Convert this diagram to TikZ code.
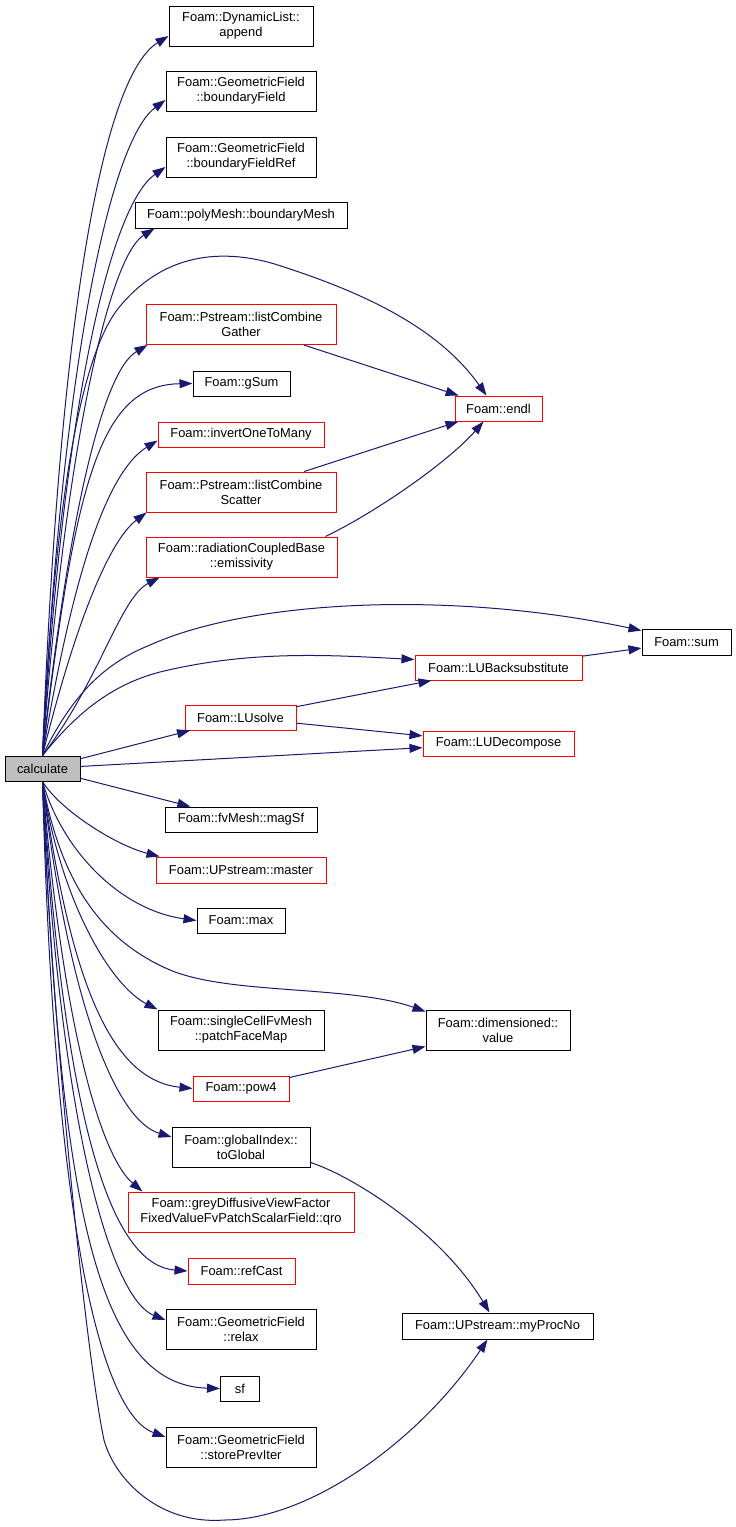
\documentclass[tikz,border=0pt]{standalone}
\usepackage{fontspec}
\setmainfont{Liberation Sans}
\usetikzlibrary{arrows.meta}
\definecolor{edgeblue}{HTML}{191970}
\definecolor{nodegray}{HTML}{BFBFBF}
\begin{document}
\begin{tikzpicture}[x=1pt,y=-1pt,font=\fontsize{12.9}{15}\selectfont,
	fn/.style={rectangle, draw=black, line width=1pt, inner sep=0pt, align=center, minimum height=25pt},
	tall/.style={minimum height=40pt},
	trunc/.style={draw=red},
	call/.style={draw=edgeblue, line width=1pt, -{Triangle[length=13pt,width=9pt]}}]
	\useasboundingbox (0,0) rectangle (736,1527);
	\node (calc)		at ( 42.5,  768.5)	[fn, fill=nodegray, minimum width=75pt]	{calculate};
	\node (append)		at (241,     26)	[fn, tall, minimum width=144pt]	{Foam::DynamicList::\\append};
	\node (bField)		at (241,     91)	[fn, tall, minimum width=150pt]	{Foam::GeometricField\\::boundaryField};
	\node (bFieldRef)	at (241,    157)	[fn, tall, minimum width=150pt]	{Foam::GeometricField\\::boundaryFieldRef};
	\node (bMesh)		at (241,    215)	[fn, minimum width=212pt, minimum height=26pt]	{Foam::polyMesh::boundaryMesh};
	\node (lcGather)	at (241,    324.5)	[fn, tall, trunc, minimum width=190pt]	{Foam::Pstream::listCombine\\Gather};
	\node (gSum)		at (241.5,  383.5)	[fn, minimum width=97pt]	{Foam::gSum};
	\node (invert)		at (241,    434.5)	[fn, trunc, minimum width=166pt]	{Foam::invertOneToMany};
	\node (lcScatter)	at (241,    492)	[fn, tall, trunc, minimum width=190pt]	{Foam::Pstream::listCombine\\Scatter};
	\node (emiss)		at (241.5,  557)	[fn, tall, trunc, minimum width=191pt]	{Foam::radiationCoupledBase\\::emissivity};
	\node (endl)		at (498.5,  408.5)	[fn, trunc, minimum width=87pt]	{Foam::endl};
	\node (sum)		at (686.5,  642)	[fn, minimum width=89pt, minimum height=26pt]	{Foam::sum};
	\node (LUBack)		at (498.5,  667.5)	[fn, trunc, minimum width=167pt]	{Foam::LUBacksubstitute};
	\node (LUsolve)		at (240.5,  717.5)	[fn, trunc, minimum width=111pt]	{Foam::LUsolve};
	\node (LUDec)		at (498.5,  743.5)	[fn, trunc, minimum width=151pt]	{Foam::LUDecompose};
	\node (magSf)		at (241,    819.5)	[fn, minimum width=152pt]	{Foam::fvMesh::magSf};
	\node (master)		at (241,    870)	[fn, trunc, minimum width=170pt, minimum height=26pt]	{Foam::UPstream::master};
	\node (max)		at (241,    920.5)	[fn, minimum width=88pt]	{Foam::max};
	\node (value)		at (498,   1030)	[fn, tall, minimum width=144pt]	{Foam::dimensioned::\\value};
	\node (patch)		at (241,   1030)	[fn, tall, minimum width=166pt]	{Foam::singleCellFvMesh\\::patchFaceMap};
	\node (pow4)		at (241,   1088.5)	[fn, trunc, minimum width=96pt]	{Foam::pow4};
	\node (toGlobal)	at (241,   1147)	[fn, tall, minimum width=138pt]	{Foam::globalIndex::\\toGlobal};
	\node (qro)		at (241,   1212)	[fn, tall, trunc, minimum width=226pt]	{Foam::greyDiffusiveViewFactor\\FixedValueFvPatchScalarField::qro};
	\node (refCast)		at (241.5, 1271)	[fn, trunc, minimum width=107pt, minimum height=26pt]	{Foam::refCast};
	\node (relax)		at (241,   1329.5)	[fn, tall, minimum width=150pt]	{Foam::GeometricField\\::relax};
	\node (myProcNo)	at (497.5, 1326)	[fn, minimum width=191pt, minimum height=26pt]	{Foam::UPstream::myProcNo};
	\node (sf)		at (240,   1388.5)	[fn, minimum width=39pt]	{sf};
	\node (storePrev)	at (241,   1447)	[fn, tall, minimum width=150pt]	{Foam::GeometricField\\::storePrevIter};
	\draw [call] (calc.north) .. controls (60,300) and (105,75) .. ([yshift=-10pt]append.west);
	\draw [call] (calc.north) .. controls (62,360) and (111,140) .. ([yshift=-9pt]bField.west);
	\draw [call] (calc.north) .. controls (64,400) and (111,205) .. ([yshift=-10pt]bFieldRef.west);
	\draw [call] (calc.north) .. controls (66,440) and (110,256) .. ([xshift=20pt]bMesh.south west);
	\draw [call] (calc.north) .. controls (55,500) and (80,360) .. (117,310) .. controls (160,255) and (220,245) .. (284,267) .. controls (370,295) and (440,330) .. ([xshift=-12pt]endl.north);
	\draw [call] (calc.north) .. controls (68,520) and (102,372) .. ([xshift=2pt]lcGather.south west);
	\draw [call] (calc.north) .. controls (75,480) and (100,385) .. (gSum.west);
	\draw [call] (calc.north) .. controls (75,560) and (110,470) .. ([yshift=-6pt]invert.west);
	\draw [call] (calc.north) .. controls (76,620) and (110,540) .. ([xshift=1pt]lcScatter.south west);
	\draw [call] (calc.north) .. controls (100,680) and (120,598) .. ([xshift=14pt]emiss.south west);
	\draw [call] (calc.north) .. controls (70,700) and (100,665) .. (150,645) .. controls (250,600) and (450,590) .. ([yshift=-2pt]sum.north west);
	\draw [call] (calc.north) .. controls (75,715) and (110,685) .. (160,672) .. controls (250,650) and (330,655) .. ([yshift=8pt]LUBack.west);
	\draw [call] (calc) -- (LUsolve);
	\draw [call] (calc) -- (LUDec);
	\draw [call] (calc) -- (magSf);
	\draw [call] (calc.south) .. controls (60,810) and (115,845) .. ([xshift=4pt]master.north west);
	\draw [call] (calc.south) .. controls (62,850) and (120,910) .. (max.west);
	\draw [call] (calc.south) .. controls (60,880) and (100,940) .. (170,970) .. controls (230,995) and (350,985) .. ([yshift=-2pt]value.north west);
	\draw [call] (calc.south) .. controls (60,900) and (110,985) .. (patch.north west);
	\draw [call] (calc.south) .. controls (70,980) and (110,1080) .. (pow4.west);
	\draw [call] (calc.south) .. controls (68,1000) and (115,1120) .. ([yshift=10pt]toGlobal.west);
	\draw [call] (calc.south) .. controls (65,1050) and (105,1160) .. ([xshift=15pt]qro.north west);
	\draw [call] (calc.south) .. controls (65,1120) and (110,1265) .. (refCast.west);
	\draw [call] (calc.south) .. controls (62,1150) and (115,1300) .. ([yshift=9.5pt]relax.west);
	\draw [call] (calc.south) .. controls (60,1200) and (95,1385) .. (sf.west);
	\draw [call] (calc.south) .. controls (55,1250) and (105,1415) .. ([yshift=10pt]storePrev.west);
	\draw [call] (calc.south) .. controls (50,1000) and (85,1350) .. (104,1440) .. controls (115,1480) and (160,1525) .. (224,1520) .. controls (310,1520) and (420,1440) .. ([xshift=-10pt]myProcNo.south);
	\draw [call] (lcGather) -- (endl);
	\draw [call] (lcScatter) -- (endl);
	\draw [call] ([xshift=-12pt]emiss.north east) .. controls (380,510) and (450,460) .. ([xshift=-15pt]endl.south);
	\draw [call] (LUBack) -- (sum);
	\draw [call] (LUsolve) -- (LUBack);
	\draw [call] (LUsolve) -- (LUDec);
	\draw [call] (pow4) -- (value);
	\draw [call] ([yshift=5pt]toGlobal.south east) .. controls (350,1175) and (440,1230) .. ([xshift=-8pt]myProcNo.north);
\end{tikzpicture}
\end{document}
